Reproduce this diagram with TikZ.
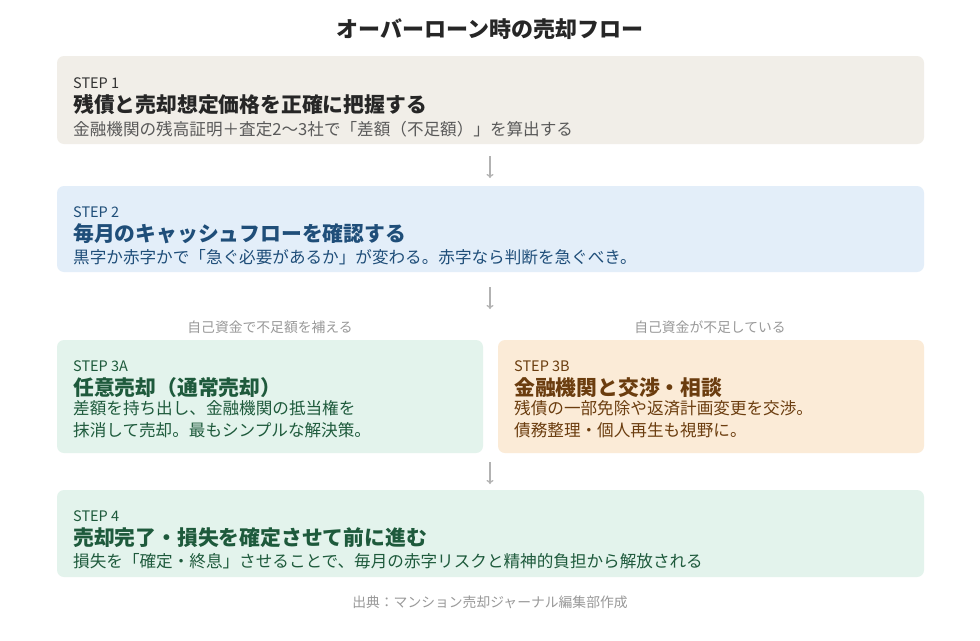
\documentclass[tikz,border=0pt]{standalone}
\usetikzlibrary{arrows.meta}
\usepackage{fontspec}
\setmainfont{Noto Sans CJK JP}
\begin{document}
\begin{tikzpicture}[x=1pt,y=-1pt,
  box/.style={rounded corners=7pt,draw=none},
  stp/.style={anchor=west,font=\fontsize{14.5}{14.5}\selectfont,inner sep=0},
  ttl/.style={anchor=west,font=\fontsize{20.8}{21}\selectfont\bfseries,inner sep=0},
  sub/.style={anchor=west,font=\fontsize{16.6}{22}\selectfont,inner sep=0,align=left},
  lbl/.style={font=\fontsize{13.8}{14}\selectfont,text=gray!80,inner sep=0},
  arr/.style={draw=gray!60,line width=1.3pt,-{To[length=4pt,width=7pt]}}]
\definecolor{b1}{HTML}{F1EEE8}\definecolor{b2}{HTML}{E3EEF9}
\definecolor{b3}{HTML}{E3F3EC}\definecolor{b4}{HTML}{FBEBD7}
\definecolor{t2}{HTML}{1F4E79}\definecolor{t3}{HTML}{1E5A3C}\definecolor{t4}{HTML}{6B3D0F}
\useasboundingbox[fill=white] (0,0) rectangle (980,640);
\node[font=\fontsize{22}{22}\selectfont\bfseries,text=black!85] (title) at (490,29) {オーバーローン時の売却フロー};
\fill[b1,box] (57,56) rectangle (924,144);
\node[stp,text=black!80] (s1) at (73,83) {STEP 1};
\node[ttl,text=black!85] (s1t) at (73,105) {残債と売却想定価格を正確に把握する};
\node[sub,text=black!65] (s1s) at (73,129) {金融機関の残高証明＋査定2〜3社で「差額（不足額）」を算出する};
\fill[b2,box] (57,186) rectangle (924,272);
\node[stp,text=t2] (s2) at (73,212) {STEP 2};
\node[ttl,text=t2] (s2t) at (73,234) {毎月のキャッシュフローを確認する};
\node[sub,text=t2] (s2s) at (73,257) {黒字か赤字かで「急ぐ必要があるか」が変わる。赤字なら判断を急ぐべき。};
\coordinate (a2s) at (490,287); \coordinate (a2e) at (490,309);
\node[lbl] (l1) at (270,327) {自己資金で不足額を補える};
\node[lbl] (l2) at (710,327) {自己資金が不足している};
\fill[b3,box] (57,340) rectangle (483,453);
\fill[b4,box] (498,340) rectangle (924,453);
\node[stp,text=t3] (s3a) at (73,366) {STEP 3A};
\node[ttl,text=t3] (s3at) at (73,388) {任意売却（通常売却）};
\node[sub,text=t3,anchor=north west] (s3as) at (73,400) {差額を持ち出し、金融機関の抵当権を\\抹消して売却。最もシンプルな解決策。};
\node[stp,text=t4] (s3b) at (514,366) {STEP 3B};
\node[ttl,text=t4] (s3bt) at (514,388) {金融機関と交渉・相談};
\node[sub,text=t4,anchor=north west] (s3bs) at (514,400) {残債の一部免除や返済計画変更を交渉。\\債務整理・個人再生も視野に。};
\coordinate (a3s) at (490,462); \coordinate (a3e) at (490,484);
\fill[b3,box] (57,490) rectangle (924,577);
\node[stp,text=t3] (s4) at (73,516) {STEP 4};
\node[ttl,text=t3] (s4t) at (73,538) {売却完了・損失を確定させて前に進む};
\node[sub,text=t3] (s4s) at (73,561) {損失を「確定・終息」させることで、毎月の赤字リスクと精神的負担から解放される};
\node[lbl] (src) at (490,602) {出典：マンション売却ジャーナル編集部作成};
\coordinate (a1s) at (490,156); \coordinate (a1e) at (490,178);
\draw[arr] (a1s) -- (a1e);
\draw[arr] (a2s) -- (a2e);
\draw[arr] (a3s) -- (a3e);
\end{tikzpicture}
\end{document}
